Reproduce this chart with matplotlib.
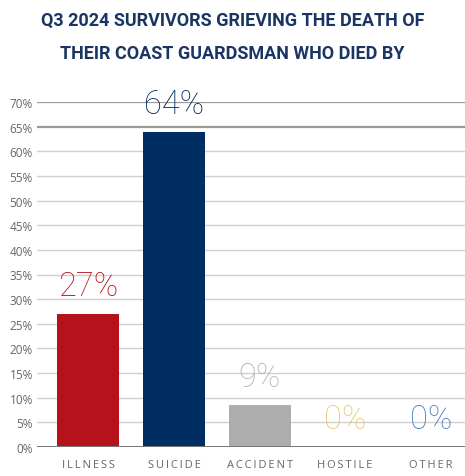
import matplotlib.pyplot as plt
import matplotlib.transforms as mtransforms
import numpy as np

# data
categories = ['ILLNESS', 'SUICIDE', 'ACCIDENT', 'HOSTILE', 'OTHER']
values = [27, 64, 8.6, 0, 0]
labels = ['27%', '64%', '9%', '0%', '0%']
colors = ['#b5121b', '#002d62', '#adadad', '#adadad', '#adadad']
label_colors = ['#b5121b', '#002d62', '#b3b3b3', '#e6c870', '#4a7fc4']
yticks = np.arange(0, 75, 5)

fig = plt.figure(figsize=(4.65, 4.77), dpi=100)
ax = fig.add_axes([37 / 465, 1 - 448 / 477, 428 / 465, 345 / 477])

x = np.arange(len(categories))
ax.bar(x, values, width=0.725, color=colors, zorder=3)
ax.set_xlim(-0.6, 4.4)
ax.set_ylim(0, 70)

for i, (v, lab) in enumerate(zip(values, labels)):
    ax.text(x[i], v + 2.4, lab, ha='center', va='bottom', fontsize=23.5,
            color=label_colors[i], family='Roboto', fontweight='light',
            clip_on=False, zorder=4)

# grid lines, the top two are darker
for t in yticks[1:]:
    if t >= 65:
        ax.axhline(t, color='#999999', lw=1.6, zorder=1)
    else:
        ax.axhline(t, color='#d0d0d0', lw=1.0, zorder=1)
ax.axhline(0, color='#777777', lw=1.4, zorder=4)

ax.set_yticks(yticks)
ax.set_yticklabels([f'{t}%' for t in yticks], fontsize=8.5, color='#666666',
                   family='Open Sans')
ax.set_xticks(x)
ax.set_xticklabels(['\u2009'.join(c) for c in categories], fontsize=8,
                   color='#666666', family=['Open Sans', 'DejaVu Sans'])
shift = mtransforms.ScaledTranslation(-5 / 100, 0, fig.dpi_scale_trans)
for t in ax.get_xticklabels():
    t.set_transform(t.get_transform() + shift)
ax.tick_params(axis='both', length=0, pad=3)
ax.tick_params(axis='x', pad=9)
for s in ax.spines.values():
    s.set_visible(False)

fig.text(0.5, 1 - 21 / 477, 'Q3 2024 SURVIVORS GRIEVING THE DEATH OF', ha='center',
         va='center', fontsize=13, color='#1a3563', family='Roboto',
         fontweight='bold')
fig.text(0.5, 1 - 54 / 477, 'THEIR COAST GUARDSMAN WHO DIED BY', ha='center',
         va='center', fontsize=13, color='#1a3563', family='Roboto',
         fontweight='bold')

fig.savefig('out.png', dpi=100)
